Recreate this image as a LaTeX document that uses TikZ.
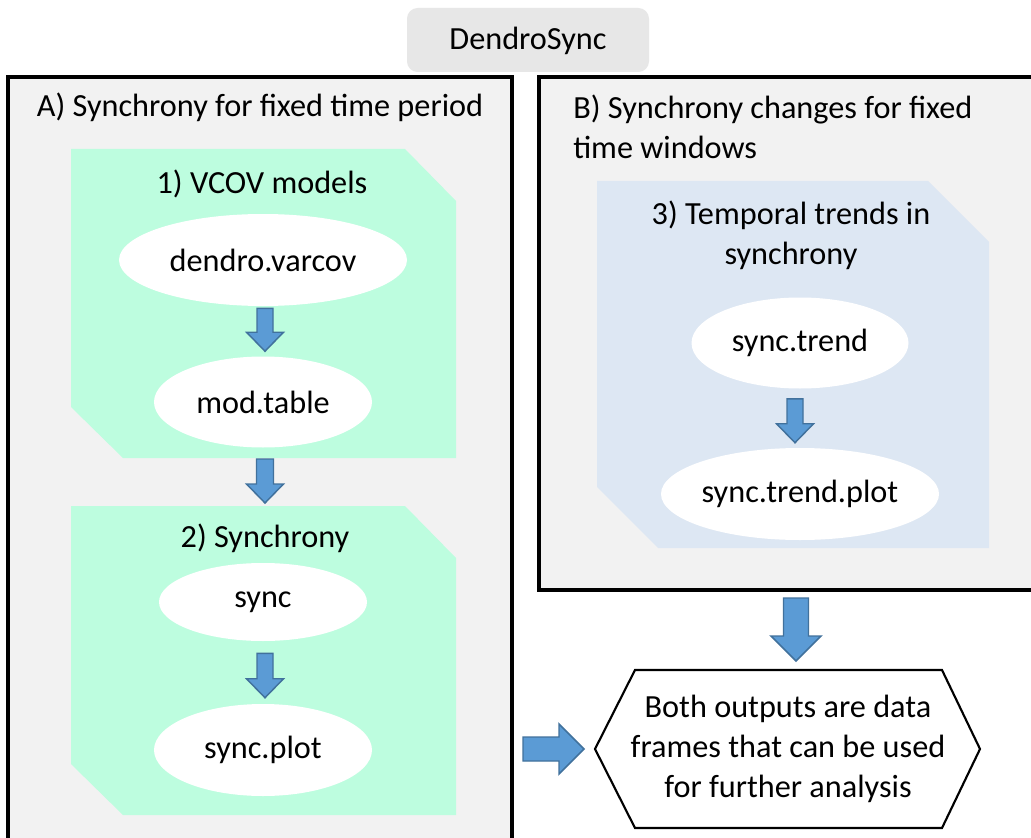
\documentclass[tikz,border=0pt]{standalone}
\usepackage{fontspec}
\setmainfont{Carlito}
\usetikzlibrary{shapes.geometric,calc}
\definecolor{mint}{RGB}{189,253,223}
\definecolor{paleblue}{RGB}{221,231,243}
\definecolor{panelgray}{RGB}{242,242,242}
\definecolor{titlegray}{RGB}{231,231,231}
\definecolor{arrowfill}{RGB}{91,155,213}
\definecolor{arrowdraw}{RGB}{65,113,156}
\tikzset{
  panel/.style={draw=black, line width=2.3pt, fill=panelgray},
  greenbox/.style={fill=mint, draw=none},
  bluebox/.style={fill=paleblue, draw=none},
  fn/.style={ellipse, fill=white, draw=none, inner sep=0pt},
  barrow/.style={fill=arrowfill, draw=arrowdraw, line width=1.1pt, line join=miter},
  hexline/.style={draw=black, line width=1.6pt, fill=white, line join=miter},
  lbl/.style={inner sep=0pt}
}
% vertical block arrow: #1 start, #2 tip, #3 shaft half width, #4 head half width, #5 head length (px)
\newcommand\downblock[5]{%
  \draw[barrow] let \p1=#1, \p2=#2 in
    (\x2-#3*0.75pt,\y1) -- (\x2+#3*0.75pt,\y1) -- (\x2+#3*0.75pt,\y2+#5*0.75pt)
    -- (\x2+#4*0.75pt,\y2+#5*0.75pt) -- (\x2,\y2) -- (\x2-#4*0.75pt,\y2+#5*0.75pt)
    -- (\x2-#3*0.75pt,\y2+#5*0.75pt) -- cycle;}
\newcommand\rightblock[5]{%
  \draw[barrow] let \p1=#1, \p2=#2 in
    (\x1,\y2+#3*0.75pt) -- (\x1,\y2-#3*0.75pt) -- (\x2-#5*0.75pt,\y2-#3*0.75pt)
    -- (\x2-#5*0.75pt,\y2-#4*0.75pt) -- (\x2,\y2) -- (\x2-#5*0.75pt,\y2+#4*0.75pt)
    -- (\x2-#5*0.75pt,\y2+#3*0.75pt) -- cycle;}
\begin{document}
\begin{tikzpicture}[x=0.75pt,y=-0.75pt,
  every node/.style={font=\fontsize{24.2}{29.8}\selectfont, text=black}]
\useasboundingbox (0,0) rectangle (1031,838);
\clip (0,0) rectangle (1031,838);
\fill[white] (0,0) rectangle (1031,838);

% title
\fill[titlegray, rounded corners=8pt] (407,8) rectangle (649,72);
\node[lbl] (title) at (528,41) {DendroSync};

% panels
\draw[panel] (8,77) rectangle (512,870);
\draw[panel] (539,77) rectangle (1060,590);
\node[lbl] (ta) at (260,107) {A) Synchrony for fixed time period};
\node[lbl, anchor=west, align=left] (tb) at (573,127) {B) Synchrony changes for fixed\\time windows};

% green box 1
\fill[greenbox] (71,149) -- (405,149) -- (456,201) -- (456,458) -- (123,458) -- (71,407) -- cycle;
\coordinate (g1s) at (265,458);
\node[lbl] (t1) at (262,184) {1) VCOV models};
\node[fn, minimum width=288*0.75pt, minimum height=92*0.75pt] (varcov) at (263,260) {dendro.varcov};
\node[fn, minimum width=218*0.75pt, minimum height=91*0.75pt] (modtable) at (263,402) {mod.table};
\downblock{($(varcov.south)+(0,2)$)}{($(modtable.north)+(2,-5)$)}{8}{18.5}{19}

% green box 2
\fill[greenbox] (71,506) -- (405,506) -- (456,558) -- (456,815) -- (123,815) -- (71,764) -- cycle;
\coordinate (g2n) at (265,506);
\downblock{($(g1s)+(0,1)$)}{($(g2n)+(0,-3)$)}{8.5}{18.5}{19}
\node[lbl] (t2) at (265,538) {2) Synchrony};
\node[fn, minimum width=208*0.75pt, minimum height=78*0.75pt] (sync) at (263,602) {sync};
\node[fn, minimum width=218*0.75pt, minimum height=92*0.75pt] (syncplot) at (263,750) {sync.plot};
\downblock{($(sync.south)+(0,12)$)}{($(syncplot.north)+(2,-6)$)}{8}{18.5}{19}

% blue box 3
\fill[bluebox] (597,181) -- (928,181) -- (989,242) -- (989,548) -- (658,548) -- (597,487) -- cycle;
\node[lbl, align=center] (t3) at (791,235) {3) Temporal trends in\\synchrony};
\node[fn, minimum width=217*0.75pt, minimum height=91*0.75pt] (trend) at (800,343) {sync.trend};
\node[fn, minimum width=256*0.75pt, minimum height=92*0.75pt] (trendplot) at (800,494) {sync.trend.plot};
\downblock{($(trend.south)+(0,10)$)}{($(trendplot.north)+(-5,-5)$)}{8}{18.5}{19}

% output hexagon
\draw[hexline] (595,749) -- (635,670) -- (942,670) -- (980,749) -- (942,828) -- (635,828) -- cycle;
\coordinate (hexn) at (796,670);
\coordinate (hexw) at (595,749);
\coordinate (Bs) at (796,590);
\coordinate (Ae) at (512,749);
\node[lbl, align=center] (out) at (788,749) {Both outputs are data\\frames that can be used\\for further analysis};
\downblock{($(Bs)+(0,8)$)}{($(hexn)+(0,-9)$)}{12.5}{25}{25}
\rightblock{($(Ae)+(11,0)$)}{($(hexw)+(-11,0)$)}{12}{25}{25}
\end{tikzpicture}
\end{document}
